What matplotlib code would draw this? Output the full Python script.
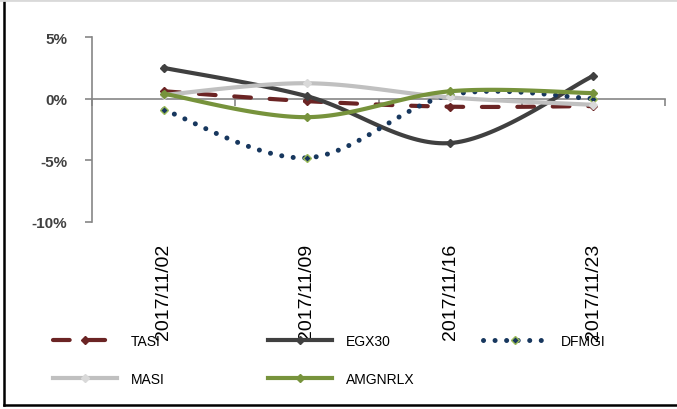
import numpy as np
import matplotlib
matplotlib.use("Agg")
import matplotlib.pyplot as plt
from matplotlib.lines import Line2D
from matplotlib.transforms import blended_transform_factory

# weekly change, %
dates = ["2017/11/02", "2017/11/09", "2017/11/16", "2017/11/23"]
tasi = [0.6, -0.2, -0.65, -0.6]
egx30 = [2.5, 0.2, -3.6, 1.85]
dfmgi = [-0.9, -4.8, 0.3, 0.0]
masi = [0.3, 1.25, 0.1, -0.5]
amgnrlx = [0.4, -1.5, 0.6, 0.45]
y_ticks = [5, 0, -5, -10]


def smooth(y, n=40):
    # catmull-rom curve through the points, like excel's smoothed line
    x = np.arange(len(y), dtype=float)
    p = np.column_stack([x, y])
    p = np.vstack([p[0], p, p[-1]])
    out = []
    for i in range(1, len(p) - 2):
        p0, p1, p2, p3 = p[i - 1], p[i], p[i + 1], p[i + 2]
        c1 = p1 + (p2 - p0) / 6
        c2 = p2 - (p3 - p1) / 6
        t = np.linspace(0, 1, n)[:, None]
        seg = ((1 - t) ** 3 * p1 + 3 * (1 - t) ** 2 * t * c1
               + 3 * (1 - t) * t ** 2 * c2 + t ** 3 * p2)
        out.append(seg if i == 1 else seg[1:])
    out = np.vstack(out)
    return out[:, 0], out[:, 1]


series = [
    ("TASI", tasi, 3, dict(color="#6B2424", ls=(0, (4, 4.5)), dash_capstyle="round"),
     dict(mfc="#6B2424", mec="#6B2424")),
    ("EGX30", egx30, 3, dict(color="#404040", ls="-"),
     dict(mfc="#404040", mec="#404040")),
    ("DFMGI", dfmgi, 3.6, dict(color="#17375E", ls=(0, (0.01, 2.3)), dash_capstyle="round"),
     dict(mfc="#17375E", mec="#9BBB59")),
    ("MASI", masi, 3, dict(color="#C0C0C0", ls="-"),
     dict(mfc="#D9D9D9", mec="#D9D9D9")),
    ("AMGNRLX", amgnrlx, 3, dict(color="#77933C", ls="-"),
     dict(mfc="#77933C", mec="#77933C")),
]

fig = plt.figure(figsize=(6.77, 4.10), dpi=100)
ax = fig.add_axes([92 / 677, (410 - 223) / 410, 573 / 677, 185 / 410])

handles = {}
for k, (name, vals, lw, lstyle, mstyle) in enumerate(series):
    xs, ys = smooth(vals)
    ax.plot(xs, ys, lw=lw, zorder=3 + k, **lstyle)
    ax.plot(range(len(vals)), vals, ls="none", marker="D", ms=4.5, mew=1,
            zorder=3 + k, **mstyle)
    handles[name] = Line2D([], [], lw=lw, marker="D", ms=4.5, mew=1,
                           markevery=[1], **lstyle, **mstyle)

ax.set_xlim(-0.5, 3.5)
ax.set_ylim(-10, 5)
for s in ["top", "right"]:
    ax.spines[s].set_visible(False)
ax.spines["left"].set_color("#868686")
ax.spines["left"].set_linewidth(1.2)
ax.spines["bottom"].set_position(("data", 0))
ax.spines["bottom"].set_color("#868686")
ax.spines["bottom"].set_linewidth(1.2)

ax.set_yticks(y_ticks)
ax.set_yticklabels([f"{v}%" for v in y_ticks], fontsize=11, fontweight="bold",
                   color="#404040", family="Liberation Sans")
ax.tick_params(axis="y", length=5, width=1.2, color="#868686", pad=13)
ax.set_xticks(np.arange(-0.5, 4, 1))
ax.set_xticklabels([])
ax.tick_params(axis="x", length=5, width=1.2, color="#868686", direction="out")

# date labels sit below the plot area
lab_tr = blended_transform_factory(ax.transData, fig.transFigure)
for i, d in enumerate(dates):
    ax.text(i, 1 - 292 / 410, d, transform=lab_tr, rotation=90, ha="center",
            va="center", fontsize=14, family="Liberation Sans", color="#000000")

leg_font = {"family": ["Liberation Sans Narrow", "Liberation Sans"], "size": 10}
cols = [(["TASI", "MASI"], 53), (["EGX30", "AMGNRLX"], 268), (["DFMGI"], 483)]
for names, x0 in cols:
    fig.legend([handles[n] for n in names], names, loc="upper left",
               bbox_to_anchor=(x0 / 677, 1 - 335 / 410), frameon=False,
               prop=leg_font, handlelength=4.6, handletextpad=1.0,
               labelspacing=1.75, borderpad=0, borderaxespad=0)

# chart frame
fig.add_artist(Line2D([3.5 / 677, 3.5 / 677], [0.01, 1], color="black", lw=1.8))
fig.add_artist(Line2D([3.5 / 677, 1], [1 - 406 / 410] * 2, color="black", lw=1.8))
fig.add_artist(Line2D([0, 1], [1 - 1 / 410] * 2, color="#D9D9D9", lw=2))

fig.savefig("out.png", dpi=100)
